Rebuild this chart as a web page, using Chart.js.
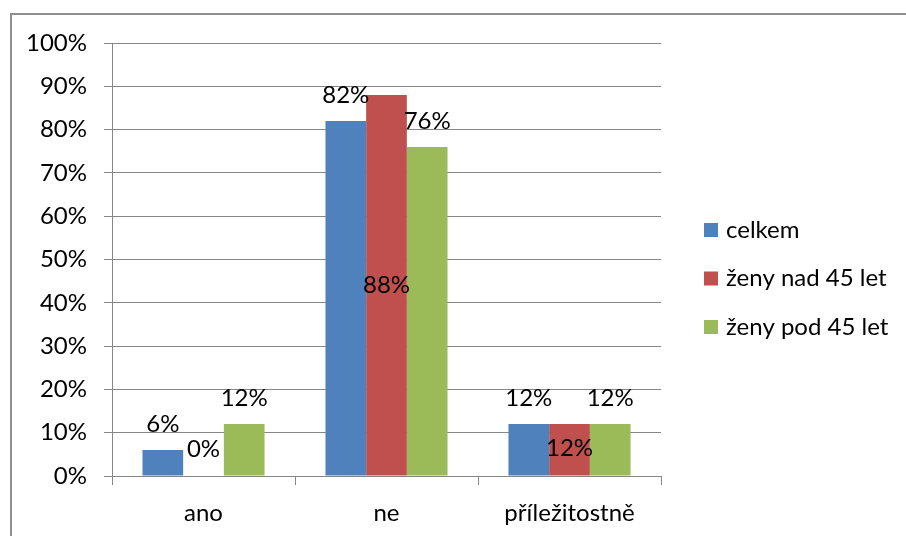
<!DOCTYPE html>
<html>
<head>
<meta charset="utf-8">
<script src="https://cdn.jsdelivr.net/npm/chart.js@4/dist/chart.umd.min.js"></script>
<style>
  html, body { margin: 0; padding: 0; background: #fff; }
  #wrap { position: relative; width: 906px; height: 536px; overflow: hidden; }
  #frame {
    position: absolute; left: 10px; top: 13px; width: 1000px; height: 1000px;
    border-left: 2px solid #8f8f8f; border-top: 2px solid #8f8f8f;
  }
  #chart { position: absolute; left: 0; top: 0; }
</style>
</head>
<body>
<div id="wrap">
  <div id="frame"></div>
  <canvas id="chart" width="906" height="536"></canvas>
</div>
<script>
// Survey answers in percent, one array per group
const categories = ['ano', 'ne', 'příležitostně'];
const seriesNames = ['celkem', 'ženy nad 45 let', 'ženy pod 45 let'];
const celkem = [6, 82, 12];
const zenyNad45 = [0, 88, 12];
const zenyPod45 = [12, 76, 12];
const yMax = 100;
const yStep = 10;

const seriesColors = ['#4F81BD', '#C0504D', '#9BBB59'];
const labelFont = { family: 'Lato, "Noto Sans", sans-serif', size: 24 };
const gridColor = '#878787';

// Percent labels: 'end' sits above the bar, 'center' inside it
const valueLabels = {
  id: 'valueLabels',
  afterDatasetsDraw(chart) {
    const ctx = chart.ctx;
    ctx.save();
    ctx.font = `${labelFont.size}px ${labelFont.family}`;
    ctx.fillStyle = '#000';
    ctx.textAlign = 'center';
    ctx.textBaseline = 'middle';
    chart.data.datasets.forEach((ds, i) => {
      chart.getDatasetMeta(i).data.forEach((bar, j) => {
        let y;
        if (ds.labelPos === 'center') {
          y = Math.min((bar.y + bar.base) / 2, bar.base - 27);
        } else {
          y = bar.y - 26;
        }
        ctx.fillText(ds.data[j] + '%', bar.x, y);
      });
    });
    ctx.restore();
  }
};

// Legend drawn to the right of the plot
const sideLegend = {
  id: 'sideLegend',
  afterDraw(chart) {
    const ctx = chart.ctx;
    const left = chart.chartArea.right + 43;
    const top = 230;
    const gap = 48.5;
    ctx.save();
    ctx.font = `${labelFont.size}px ${labelFont.family}`;
    ctx.textAlign = 'left';
    ctx.textBaseline = 'middle';
    chart.data.datasets.forEach((ds, i) => {
      const y = top + i * gap;
      ctx.fillStyle = ds.backgroundColor;
      ctx.fillRect(left, y - 7, 14, 14);
      ctx.fillStyle = '#000';
      ctx.fillText(ds.label, left + 22, y);
    });
    ctx.restore();
  }
};

new Chart(document.getElementById('chart'), {
  type: 'bar',
  data: {
    labels: categories,
    datasets: [
      { label: seriesNames[0], data: celkem, backgroundColor: seriesColors[0], labelPos: 'end' },
      { label: seriesNames[1], data: zenyNad45, backgroundColor: seriesColors[1], labelPos: 'center' },
      { label: seriesNames[2], data: zenyPod45, backgroundColor: seriesColors[2], labelPos: 'end' }
    ]
  },
  options: {
    responsive: false,
    animation: false,
    events: [],
    layout: { padding: { top: 43, right: 245, left: 0, bottom: 0 } },
    datasets: { bar: { barPercentage: 1, categoryPercentage: 0.667 } },
    plugins: { legend: { display: false }, tooltip: { enabled: false } },
    scales: {
      x: {
        grid: { offset: true, drawOnChartArea: false, drawTicks: true, tickLength: 9, color: gridColor },
        border: { display: true, color: gridColor },
        ticks: { font: labelFont, color: '#000', padding: 14 },
        afterFit(scale) { scale.height = 60; }
      },
      y: {
        min: 0,
        max: yMax,
        ticks: { stepSize: yStep, font: labelFont, color: '#000', padding: 17, callback: v => v + '%' },
        grid: { color: gridColor, tickLength: 8 },
        border: { display: true, color: gridColor },
        afterFit(scale) { scale.width = 112; }
      }
    }
  },
  plugins: [valueLabels, sideLegend]
});
</script>
</body>
</html>
